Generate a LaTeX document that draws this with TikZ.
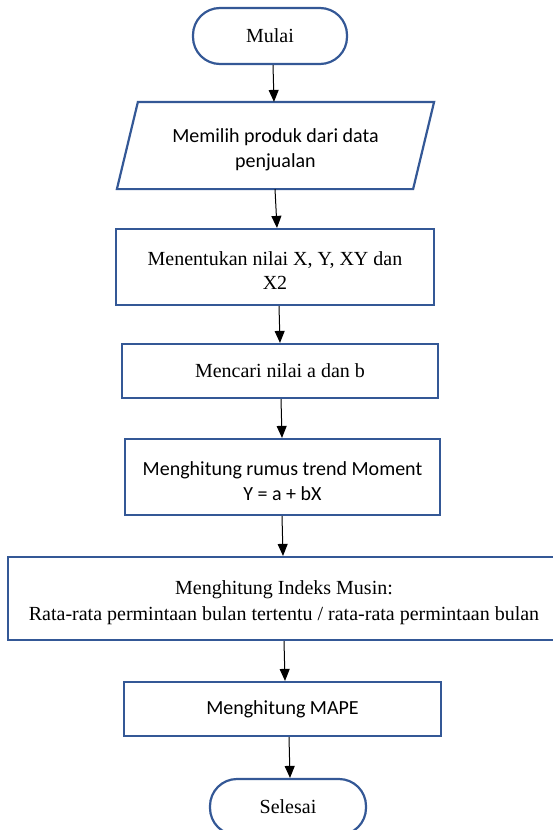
\documentclass[tikz,border=0pt]{standalone}
\usepackage{fontspec}
\setmainfont{Liberation Serif}
\newfontfamily\calibri{Carlito}
\usetikzlibrary{arrows.meta}
\definecolor{boxblue}{RGB}{52,88,150}
\newcommand{\lowstrut}{\rule{0pt}{21.5pt}}
\begin{document}
\begin{tikzpicture}[x=1pt,y=-1pt,
  box/.style={draw=boxblue, line width=2.2pt, fill=white, inner sep=0pt, align=center, font=\fontsize{20}{24}\selectfont},
  cbox/.style={box, font=\calibri\fontsize{20}{25}\selectfont},
  term/.style={box, rounded corners=27pt},
  flow/.style={line width=1pt, -{Triangle[width=10pt,length=12pt]}}]
\useasboundingbox (0,0) rectangle (552,830);
\node[term, minimum width=154pt, minimum height=56pt] (start) at (270,36) {Mulai};
\node[cbox, draw=none, fill=none, minimum width=294pt, minimum height=85pt] (p) at (275.5,145.5) {\lowstrut Memilih produk dari data\\penjualan};
\draw[draw=boxblue, line width=2.2pt] ([xshift=10.5pt]p.north west) -- ([xshift=10.5pt]p.north east) -- ([xshift=-10.5pt]p.south east) -- ([xshift=-10.5pt]p.south west) -- cycle;
\node[box, minimum width=318pt, minimum height=76pt] (b3) at (275,267) {\lowstrut Menentukan nilai X, Y, XY dan\\X2};
\node[box, minimum width=316pt, minimum height=54pt] (b4) at (280,371) {Mencari nilai a dan b};
\node[cbox, minimum width=315pt, minimum height=76pt] (b5) at (282.5,477) {\lowstrut Menghitung rumus trend Moment\\Y = a + bX};
\node[box, minimum width=552pt, minimum height=83pt, font=\fontsize{20}{26}\selectfont] (b6) at (284,598.5) {\lowstrut Menghitung Indeks Musin:\\Rata-rata permintaan bulan tertentu / rata-rata permintaan bulan};
\node[cbox, minimum width=317pt, minimum height=54pt] (b7) at (282.5,709) {Menghitung MAPE};
\node[term, minimum width=156pt, minimum height=56pt] (end) at (288,807) {Selesai};
\draw[flow] ([xshift=3pt]start.south) -- ([xshift=-1.5pt]p.north);
\draw[flow] ([xshift=-0.5pt]p.south) -- ([xshift=2pt]b3.north);
\draw[flow] ([xshift=4pt]b3.south) -- (b4.north);
\draw[flow] ([xshift=1pt]b4.south) -- ([xshift=-0.5pt]b5.north);
\draw[flow] ([xshift=-0.5pt]b5.south) -- ([xshift=-1pt]b6.north);
\draw[flow] (b6.south) -- ([xshift=2.5pt]b7.north);
\draw[flow] ([xshift=6.5pt]b7.south) -- ([xshift=2pt]end.north);
\end{tikzpicture}
\end{document}
